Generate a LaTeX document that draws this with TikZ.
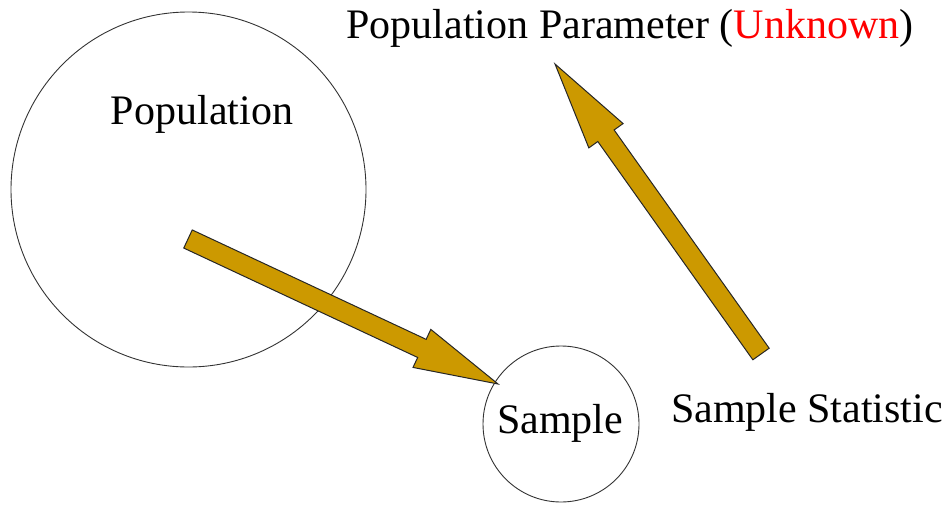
\documentclass[tikz,border=0pt]{standalone}
\usepackage{fontspec}
\setmainfont{Liberation Serif}
\usepackage{xcolor}
\usepackage{tikz}
\usetikzlibrary{shapes,arrows,positioning,calc}

\definecolor{arrowgold}{HTML}{CC9900}

\begin{document}
\begin{tikzpicture}[x=1pt, y=-1pt]
        % Style definitions
        \tikzset{
            circ/.style={draw=black!80, circle, line width=0.9pt, inner sep=0pt},
            label/.style={anchor=base, inner sep=0pt, font=\fontsize{42pt}{48pt}\selectfont},
            blockarrow/.style={fill=arrowgold, draw=black!85, line width=1pt, line join=miter}
        }
        \useasboundingbox (0,0) rectangle (947,506);

        % Circles
        \node [circ, minimum size=355pt] (pop) at (188.5,189.5) {};
        \node [circ, minimum size=156pt] (sample) at (561,424) {};

        % Texts
        \node [label] (poptext) at (202,124) {Population};
        \node [label] (sampletext) at (560,433) {Sample};
        \node [label] (stattext) at (807,422) {Sample Statistic};
        \node [label] (paramtext) at (630,38) {Population Parameter (\textcolor{red}{Unknown})};

        % Arrow ends
        \coordinate (drawtail) at (188,239);
        \coordinate (drawtip) at (498,384);
        \coordinate (stattail) at (761,354);
        \coordinate (paramtip) at (555,64);

        % Population to Sample
        \coordinate (hb1) at ($(drawtip)!84pt!(drawtail)$);
        \filldraw [blockarrow] ($(drawtail)!10pt!90:(drawtip)$) -- ($(hb1)!10pt!90:(drawtip)$)
            -- ($(hb1)!21pt!90:(drawtip)$) -- (drawtip) -- ($(hb1)!21pt!-90:(drawtip)$)
            -- ($(hb1)!10pt!-90:(drawtip)$) -- ($(drawtail)!10pt!-90:(drawtip)$) -- cycle;

        % Sample Statistic to Population Parameter
        \coordinate (hb2) at ($(paramtip)!88pt!(stattail)$);
        \filldraw [blockarrow] ($(stattail)!10pt!90:(paramtip)$) -- ($(hb2)!10pt!90:(paramtip)$)
            -- ($(hb2)!21pt!90:(paramtip)$) -- (paramtip) -- ($(hb2)!21pt!-90:(paramtip)$)
            -- ($(hb2)!10pt!-90:(paramtip)$) -- ($(stattail)!10pt!-90:(paramtip)$) -- cycle;
    \end{tikzpicture}
\end{document}
